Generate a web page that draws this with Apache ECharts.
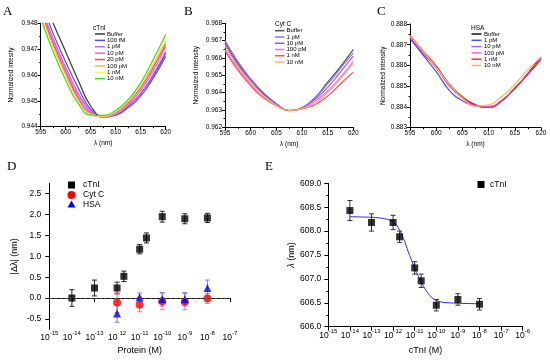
<!DOCTYPE html>
<html><head><meta charset="utf-8">
<script src="https://cdn.jsdelivr.net/npm/echarts@6/dist/echarts.min.js"></script>
<style>html,body{margin:0;padding:0;background:#fff}#c{width:550px;height:361px}</style>
</head><body><div id="c"></div>
<script>
// ---------- Panel A: cTnI spectra ----------
const wavelengths = [595, 597.5, 600, 602.5, 605, 607.5, 610, 612.5, 615, 617.5, 620];
const namesA = ['Buffer', '100 fM', '1 pM', '10 pM', '20 pM', '100 pM', '1 nM', '10 nM'];
const colorsA = ['#3a3a3a', '#4d4dff', '#b866ff', '#ff55ff', '#ff3f5f', '#ffb266', '#ffff33', '#33dd33'];
const A_buffer = [0.9492, 0.9480, 0.9469, 0.9458, 0.94480, 0.94440, 0.94446, 0.94480, 0.94528, 0.94598, 0.94684];
const A_100fM  = [0.9489, 0.9476, 0.9465, 0.9455, 0.94467, 0.94438, 0.94445, 0.94474, 0.94518, 0.94588, 0.94672];
const A_1pM    = [0.9487, 0.9474, 0.9463, 0.9453, 0.94462, 0.94438, 0.94447, 0.94479, 0.94528, 0.94602, 0.94690];
const A_10pM   = [0.9486, 0.9473, 0.9462, 0.9452, 0.94456, 0.94438, 0.94451, 0.94487, 0.94540, 0.94617, 0.94710];
const A_20pM   = [0.9485, 0.9472, 0.9461, 0.9451, 0.94452, 0.94439, 0.94455, 0.94493, 0.94550, 0.94630, 0.94720];
const A_100pM  = [0.9484, 0.9471, 0.9460, 0.9450, 0.94449, 0.94440, 0.94457, 0.94497, 0.94557, 0.94640, 0.94730];
const A_1nM    = [0.9483, 0.9470, 0.9459, 0.94495, 0.94447, 0.94442, 0.94460, 0.94502, 0.94564, 0.94650, 0.94742];
const A_10nM   = [0.9482, 0.9469, 0.9458, 0.9449, 0.94445, 0.94444, 0.94463, 0.94505, 0.94570, 0.94660, 0.94757];
const seriesA = [A_buffer, A_100fM, A_1pM, A_10pM, A_20pM, A_100pM, A_1nM, A_10nM];

// ---------- Panel B: Cyt C spectra ----------
const namesB = ['Buffer', '1 pM', '10 pM', '100 pM', '1 nM', '10 nM'];
const colorsB = ['#555555', '#7a7aff', '#a855e0', '#ff66ff', '#ff5058', '#ffb060'];
const B_buffer = [0.9669, 0.9657, 0.96475, 0.96395, 0.96335, 0.96297, 0.96313, 0.9637, 0.9646, 0.9655, 0.9665];
const B_1pM    = [0.9670, 0.9658, 0.9648, 0.9640, 0.96338, 0.96297, 0.96313, 0.9637, 0.9645, 0.9654, 0.9663];
const B_10pM   = [0.9668, 0.9656, 0.9647, 0.9639, 0.96333, 0.96297, 0.96312, 0.9636, 0.9643, 0.9652, 0.9661];
const B_100pM  = [0.9665, 0.9654, 0.9645, 0.9638, 0.96326, 0.96297, 0.96308, 0.9635, 0.9641, 0.9649, 0.9658];
const B_1nM    = [0.9664, 0.9653, 0.9644, 0.9637, 0.96324, 0.96297, 0.96306, 0.9633, 0.9638, 0.9645, 0.9652];
const B_10nM   = [0.9667, 0.9655, 0.9646, 0.9638, 0.96326, 0.96297, 0.96306, 0.9634, 0.9640, 0.9648, 0.9657];
const seriesB = [B_buffer, B_1pM, B_10pM, B_100pM, B_1nM, B_10nM];

// ---------- Panel C: HSA spectra ----------
const namesC = ['Buffer', '1 pM', '10 pM', '100 pM', '1 nM', '10 nM'];
const colorsC = ['#111111', '#4d4dff', '#b060f0', '#ff50ff', '#ff3030', '#ffb060'];
const C_buffer = [0.88735, 0.8866, 0.8859, 0.8851, 0.88448, 0.88410, 0.88398, 0.8843, 0.8849, 0.88562, 0.8864];
const C_1pM    = [0.8873, 0.8865, 0.8857, 0.8848, 0.88430, 0.88406, 0.88401, 0.8843, 0.8849, 0.88558, 0.88635];
const C_10pM   = [0.8874, 0.88662, 0.8859, 0.8850, 0.88442, 0.88408, 0.88401, 0.8843, 0.8849, 0.88558, 0.8863];
const C_100pM  = [0.8874, 0.88665, 0.8859, 0.8851, 0.88444, 0.88408, 0.88401, 0.8843, 0.8849, 0.88558, 0.8863];
const C_1nM    = [0.88745, 0.8867, 0.88598, 0.8851, 0.88448, 0.88409, 0.88398, 0.8843, 0.8849, 0.88558, 0.8863];
const C_10nM   = [0.8874, 0.88668, 0.8859, 0.8851, 0.88443, 0.88404, 0.88410, 0.8845, 0.8851, 0.8858, 0.8864];
const seriesC = [C_buffer, C_1pM, C_10pM, C_100pM, C_1nM, C_10nM];

// ---------- Panel D: |Δλ| vs protein concentration ----------
const D_conc_cTnI = [1e-14, 1e-13, 1e-12, 2e-12, 1e-11, 2e-11, 1e-10, 1e-9, 1e-8];
const D_shift_cTnI = [0.0, 0.24, 0.24, 0.52, 1.17, 1.44, 1.95, 1.90, 1.92];
const D_err_cTnI = [0.20, 0.19, 0.14, 0.125, 0.11, 0.12, 0.13, 0.12, 0.11];
const D_conc_other = [1e-12, 1e-11, 1e-10, 1e-9, 1e-8];
const D_shift_cytc = [-0.11, -0.16, -0.08, -0.09, -0.01];
const D_err_cytc = [0.24, 0.17, 0.20, 0.19, 0.12];
const D_shift_hsa = [-0.37, 0.02, -0.03, -0.03, 0.24];
const D_err_hsa = [0.21, 0.10, 0.16, 0.16, 0.19];

// ---------- Panel E: λ vs cTnI ----------
const E_conc = [1e-14, 1e-13, 1e-12, 2e-12, 1e-11, 2e-11, 1e-10, 1e-9, 1e-8];
const E_lambda = [608.43, 608.18, 608.18, 607.88, 607.23, 606.96, 606.45, 606.57, 606.47];
const E_err = [0.21, 0.18, 0.15, 0.12, 0.13, 0.14, 0.12, 0.12, 0.12];
const E_fit_conc = [1e-14, 1e-13, 2e-13, 4e-13, 7e-13, 1e-12, 1.5e-12, 2e-12, 3e-12, 4e-12, 5e-12, 7e-12, 1e-11, 1.5e-11, 2e-11, 3e-11, 4e-11, 5e-11, 7e-11, 1e-10, 2e-10, 4e-10, 1e-9, 1e-8];
const E_fit_lambda = [608.30, 608.29, 608.28, 608.26, 608.23, 608.19, 608.11, 608.02, 607.85, 607.70, 607.57, 607.40, 607.22, 607.05, 606.94, 606.79, 606.71, 606.65, 606.59, 606.55, 606.51, 606.50, 606.49, 606.48];

const FONT = "'Liberation Sans', Arial, sans-serif";
const SERIF = "'Liberation Serif', 'DejaVu Serif', serif";

function pairs(xs, ys) { return xs.map((x, i) => [x, ys[i]]); }
function triples(xs, ys, es) { return xs.map((x, i) => [x, ys[i], es[i]]); }

function errRender(color, cap) {
  return function (params, api) {
    const x = api.value(0), y = api.value(1), e = api.value(2);
    const hi = api.coord([x, y + e]), lo = api.coord([x, y - e]);
    const st = { stroke: color, lineWidth: 1 };
    return { type: 'group', children: [
      { type: 'line', shape: { x1: hi[0], y1: hi[1], x2: lo[0], y2: lo[1] }, style: st },
      { type: 'line', shape: { x1: hi[0] - cap, y1: hi[1], x2: hi[0] + cap, y2: hi[1] }, style: st },
      { type: 'line', shape: { x1: lo[0] - cap, y1: lo[1], x2: lo[0] + cap, y2: lo[1] }, style: st }
    ]};
  };
}

const axisLine = { show: true, lineStyle: { color: '#000', width: 1 } };

function specX(gi) {
  return {
    type: 'value', gridIndex: gi, min: 595, max: 620, interval: 5,
    axisLine: axisLine, splitLine: { show: false },
    axisTick: { inside: false, length: 3, lineStyle: { color: '#000' } },
    minorTick: { show: true, splitNumber: 2, length: 1.5, lineStyle: { color: '#000' } },
    axisLabel: { fontSize: 6.5, fontFamily: FONT, color: '#000', margin: 2.5 },
    name: 'λ (nm)', nameLocation: 'middle', nameGap: 13,
    nameTextStyle: { fontSize: 6.5, fontFamily: FONT, color: '#000' }
  };
}
function specY(gi, min, max, title, gap) {
  return {
    type: 'value', gridIndex: gi, min: min, max: max, interval: 0.001,
    axisLine: axisLine, splitLine: { show: false },
    axisTick: { inside: false, length: 3, lineStyle: { color: '#000' } },
    minorTick: { show: true, splitNumber: 2, length: 1.5, lineStyle: { color: '#000' } },
    axisLabel: { fontSize: 6.5, fontFamily: FONT, color: '#000', margin: 3, formatter: v => v.toFixed(3) },
    name: title, nameLocation: 'middle', nameGap: gap,
    nameTextStyle: { fontSize: 6.5, fontFamily: FONT, color: '#000' }
  };
}
const supRich = {
  b: { fontSize: 8.5, fontFamily: FONT, color: '#000', lineHeight: 11.5, verticalAlign: 'bottom' },
  s: { fontSize: 6, fontFamily: FONT, color: '#000', lineHeight: 7, verticalAlign: 'top' }
};
function logX(gi, max, title, gap) {
  return {
    type: 'log', logBase: 10, gridIndex: gi, min: 1e-15, max: max, interval: 1,
    axisLine: axisLine, splitLine: { show: false },
    axisTick: { inside: false, length: 4, lineStyle: { color: '#000' } },
    axisLabel: {
      margin: 1.5, color: '#000',
      formatter: v => '{b|10}{s|' + Math.round(Math.log10(v)) + '}',
      rich: supRich
    },
    name: title, nameLocation: 'middle', nameGap: gap,
    nameTextStyle: { fontSize: 9, fontFamily: FONT, color: '#000' }
  };
}

const series = [];
seriesA.forEach((d, i) => series.push({
  type: 'line', name: namesA[i], xAxisIndex: 0, yAxisIndex: 0, data: pairs(wavelengths, d),
  smooth: 0.5, showSymbol: false, symbol: 'none', clip: true,
  lineStyle: { color: colorsA[i], width: 1.2 }
}));
seriesB.forEach((d, i) => series.push({
  type: 'line', name: namesB[i], xAxisIndex: 1, yAxisIndex: 1, data: pairs(wavelengths, d),
  smooth: 0.5, showSymbol: false, symbol: 'none', clip: true,
  lineStyle: { color: colorsB[i], width: 1.2 }
}));
seriesC.forEach((d, i) => series.push({
  type: 'line', name: namesC[i], xAxisIndex: 2, yAxisIndex: 2, data: pairs(wavelengths, d),
  smooth: 0.5, showSymbol: false, symbol: 'none', clip: true,
  lineStyle: { color: colorsC[i], width: 1.2 }
}));
// Panel D
series.push({
  type: 'custom', xAxisIndex: 3, yAxisIndex: 3, z: 1,
  data: triples(D_conc_cTnI, D_shift_cTnI, D_err_cTnI), renderItem: errRender('#222', 2.5),
  markLine: { silent: true, symbol: 'none', label: { show: false },
    lineStyle: { color: '#555', type: [3, 2], width: 0.8 }, data: [{ yAxis: 0 }] }
});
series.push({ type: 'custom', xAxisIndex: 3, yAxisIndex: 3, z: 1,
  data: triples(D_conc_other, D_shift_cytc, D_err_cytc), renderItem: errRender('#f07a7a', 2.5) });
series.push({ type: 'custom', xAxisIndex: 3, yAxisIndex: 3, z: 1,
  data: triples(D_conc_other, D_shift_hsa, D_err_hsa), renderItem: errRender('#7a7af5', 2.5) });
series.push({ type: 'scatter', name: 'cTnI', xAxisIndex: 3, yAxisIndex: 3, z: 3,
  data: pairs(D_conc_cTnI, D_shift_cTnI), symbol: 'rect', symbolSize: 7, itemStyle: { color: '#000' } });
series.push({ type: 'scatter', name: 'Cyt C', xAxisIndex: 3, yAxisIndex: 3, z: 3,
  data: pairs(D_conc_other, D_shift_cytc), symbol: 'circle', symbolSize: 8, itemStyle: { color: '#ff0000' } });
series.push({ type: 'scatter', name: 'HSA', xAxisIndex: 3, yAxisIndex: 3, z: 4,
  data: pairs(D_conc_other, D_shift_hsa), symbol: 'triangle', symbolSize: 8, itemStyle: { color: '#0000ff' } });
// Panel E
series.push({ type: 'line', name: 'fit', xAxisIndex: 4, yAxisIndex: 4, z: 2,
  data: pairs(E_fit_conc, E_fit_lambda), smooth: 0.3, showSymbol: false, symbol: 'none',
  lineStyle: { color: '#2a2aff', width: 1 } });
series.push({ type: 'custom', xAxisIndex: 4, yAxisIndex: 4, z: 1,
  data: triples(E_conc, E_lambda, E_err), renderItem: errRender('#333', 2.5) });
series.push({ type: 'scatter', name: 'cTnI E', xAxisIndex: 4, yAxisIndex: 4, z: 3,
  data: pairs(E_conc, E_lambda), symbol: 'rect', symbolSize: 7, itemStyle: { color: '#000' } });

// Legends and panel letters (graphic)
const graphic = [];
function txt(x, y, s, size, family, extra) {
  graphic.push(Object.assign({ type: 'text', x: x, y: y,
    style: { text: s, fill: '#000', fontSize: size, fontFamily: family || FONT, align: 'left', verticalAlign: 'middle' } }, extra || {}));
}
function lineLegend(title, names, colors, tx, ty, y0, dy, lx1, lx2, textX) {
  txt(tx, ty, title, 6.5);
  names.forEach((n, i) => {
    const y = y0 + i * dy;
    graphic.push({ type: 'line', shape: { x1: lx1, y1: y, x2: lx2, y2: y }, style: { stroke: colors[i], lineWidth: 1.5 } });
    txt(textX, y, n, 6);
  });
}
lineLegend('cTnI', namesA, colorsA, 93, 28.5, 34, 6.38, 95, 105, 107);
lineLegend('Cyt C', namesB, colorsB, 275, 24.5, 30.7, 6.27, 275, 284.5, 286.5);
lineLegend('HSA', namesC, colorsC, 471, 28.5, 34, 6.3, 471.5, 481.5, 484);
// D legend
graphic.push({ type: 'rect', shape: { x: 68, y: 181.5, width: 7, height: 7 }, style: { fill: '#000' } });
graphic.push({ type: 'circle', shape: { cx: 71.5, cy: 195, r: 4 }, style: { fill: '#ff0000' } });
graphic.push({ type: 'polygon', shape: { points: [[71.5, 200.5], [75.5, 207.5], [67.5, 207.5]] }, style: { fill: '#0000ff' } });
txt(83, 185, 'cTnI', 8.5);
txt(83, 195, 'Cyt C', 8.5);
txt(83, 205, 'HSA', 8.5);
// E legend
graphic.push({ type: 'rect', shape: { x: 477.5, y: 181, width: 7, height: 7 }, style: { fill: '#000' } });
txt(490, 184.5, 'cTnI', 8.5);
// letters
txt(3, 11.5, 'A', 13, SERIF);
txt(184, 11.5, 'B', 13, SERIF);
txt(377, 11.5, 'C', 13, SERIF);
txt(7, 166.5, 'D', 13, SERIF);
txt(265, 167, 'E', 13, SERIF);

const chart = echarts.init(document.getElementById('c'), null, { renderer: 'canvas' });
chart.setOption({
  animation: false,
  backgroundColor: '#fff',
  grid: [
    { left: 40.7, top: 23.3, width: 125, height: 103.4 },
    { left: 225, top: 23.3, width: 128.3, height: 104 },
    { left: 410, top: 24, width: 131, height: 103.7 },
    { left: 49.3, top: 183.3, width: 180.7, height: 146 },
    { left: 328.3, top: 183.3, width: 194.4, height: 143.4 }
  ],
  xAxis: [
    specX(0), specX(1), specX(2),
    logX(3, 1e-7, 'Protein (M)', 17),
    logX(4, 1e-6, 'cTnI (M)', 19)
  ],
  yAxis: [
    specY(0, 0.944, 0.948, 'Normalized intesity', 26),
    specY(1, 0.962, 0.968, 'Normalized intensity', 25),
    specY(2, 0.883, 0.888, 'Normalized intensity', 23),
    {
      type: 'value', gridIndex: 3, min: -0.75, max: 2.75,
      axisLine: axisLine, splitLine: { show: false },
      axisTick: { inside: false, length: 4, lineStyle: { color: '#000' }, customValues: [-0.5, 0, 0.5, 1, 1.5, 2, 2.5] },
      axisLabel: { fontSize: 8.5, fontFamily: FONT, color: '#000', margin: 8,
        customValues: [-0.5, 0, 0.5, 1, 1.5, 2, 2.5], formatter: v => v.toFixed(1) },
      name: '|Δλ| (nm)', nameLocation: 'middle', nameGap: 30,
      nameTextStyle: { fontSize: 9, fontFamily: FONT, color: '#000' }
    },
    {
      type: 'value', gridIndex: 4, min: 606, max: 609, interval: 0.5,
      axisLine: axisLine, splitLine: { show: false },
      axisTick: { inside: false, length: 4, lineStyle: { color: '#000' } },
      minorTick: { show: true, splitNumber: 2, length: 2, lineStyle: { color: '#000' } },
      axisLabel: { fontSize: 8.5, fontFamily: FONT, color: '#000', margin: 7, formatter: v => v.toFixed(1) },
      name: '{i|λ} (nm)', nameLocation: 'middle', nameGap: 32,
      nameTextStyle: { fontSize: 9, fontFamily: FONT, color: '#000',
        rich: { i: { fontSize: 9, fontFamily: FONT, fontStyle: 'italic', color: '#000' } } }
    }
  ],
  series: series,
  graphic: graphic
});
</script>
</body></html>
